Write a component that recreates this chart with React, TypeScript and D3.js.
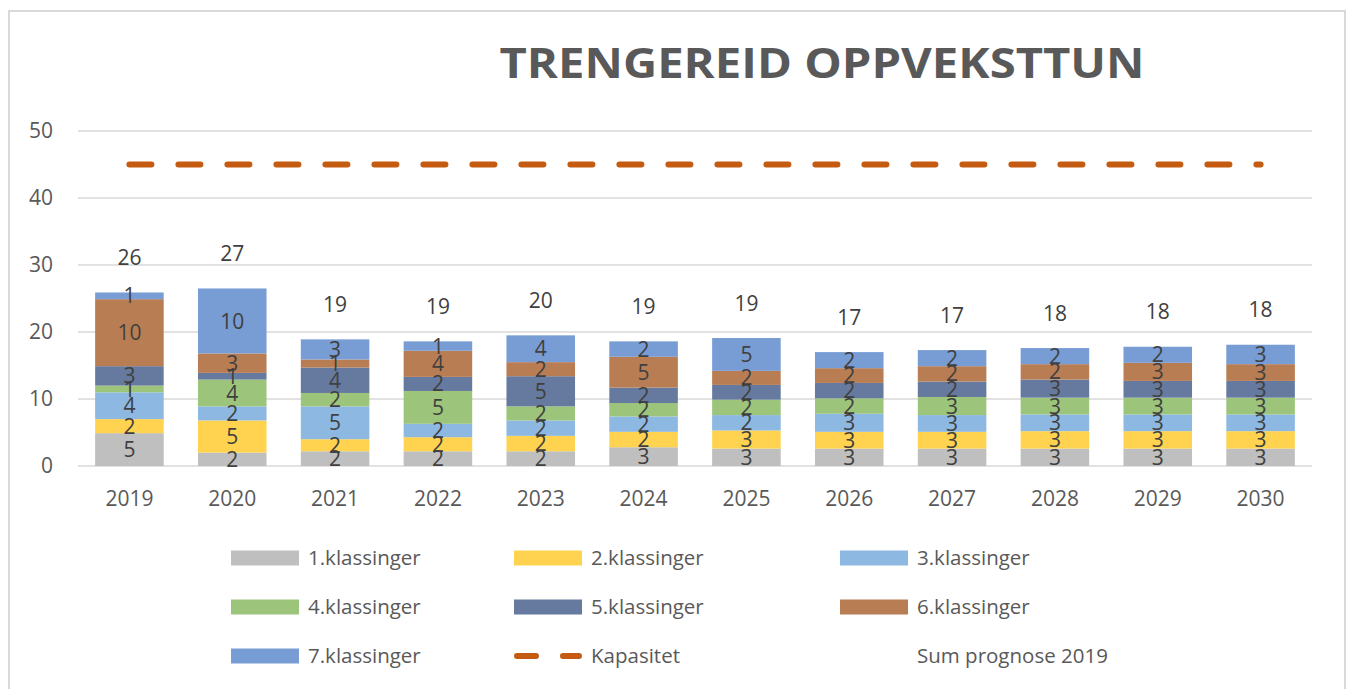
import React, { useEffect } from "react";
import * as d3 from "d3";

const years = ["2019", "2020", "2021", "2022", "2023", "2024", "2025", "2026", "2027", "2028", "2029", "2030"];
const seriesNames = [
  "1.klassinger",
  "2.klassinger",
  "3.klassinger",
  "4.klassinger",
  "5.klassinger",
  "6.klassinger",
  "7.klassinger",
];
const kl1 = [4.9, 2.0, 2.2, 2.2, 2.2, 2.8, 2.6, 2.6, 2.6, 2.6, 2.6, 2.6];
const kl2 = [2.1, 4.8, 1.8, 2.1, 2.3, 2.3, 2.7, 2.5, 2.5, 2.6, 2.6, 2.6];
const kl3 = [4.0, 2.1, 4.9, 2.0, 2.3, 2.3, 2.3, 2.7, 2.5, 2.5, 2.5, 2.5];
const kl4 = [1.0, 4.0, 2.0, 4.9, 2.1, 2.0, 2.3, 2.3, 2.7, 2.5, 2.5, 2.5];
const kl5 = [2.9, 1.0, 3.8, 2.1, 4.5, 2.3, 2.2, 2.3, 2.3, 2.7, 2.5, 2.5];
const kl6 = [10.0, 2.9, 1.2, 3.9, 2.1, 4.6, 2.1, 2.2, 2.3, 2.3, 2.7, 2.5];
const kl7 = [1.0, 9.7, 3.0, 1.4, 4.0, 2.3, 4.9, 2.4, 2.4, 2.4, 2.4, 2.9];
const kapasitet = [45, 45, 45, 45, 45, 45, 45, 45, 45, 45, 45, 45];
const yTicks = [0, 10, 20, 30, 40, 50];

const colors = ["#BFBFBF", "#FFD34F", "#8DB8E1", "#9CC47B", "#667A9F", "#B97D53", "#789CD4"];
const lineColor = "#C55A11";
const FONT = "'Open Sans', sans-serif";

const W = 1357;
const H = 689;

export default function App() {
  useEffect(() => {
    document.body.style.margin = "0";
  }, []);

  const allSeries = [kl1, kl2, kl3, kl4, kl5, kl6, kl7];
  const rows = years.map((yr, i) => {
    const r: any = { year: yr };
    seriesNames.forEach((s, k) => (r[s] = allSeries[k][i]));
    return r;
  });
  const stacked = d3.stack().keys(seriesNames)(rows);
  const totals = years.map((_, i) => Math.round(d3.sum(allSeries, (s) => s[i]) * 10) / 10);

  const x = d3.scaleBand().domain(years).range([78, 1312]).paddingInner(1 / 3).paddingOuter(1 / 6);
  const y = d3.scaleLinear().domain([0, 50]).range([466, 131]);
  const cx = (yr: string) => (x(yr) || 0) + x.bandwidth() / 2;

  const capLine = d3
    .line<number>()
    .x((_, i) => cx(years[i]))
    .y((d) => y(d));

  // legend layout
  const legendCols = [231, 514, 840];
  const legendRows = [558, 607, 656];
  const legendItems = [
    ...seriesNames.map((n, i) => ({ name: n, type: "bar", color: colors[i] })),
    { name: "Kapasitet", type: "line", color: lineColor },
    { name: "Sum prognose 2019", type: "none", color: "none" },
  ];

  return (
    <svg width={W} height={H} style={{ display: "block", background: "#fff" }}>
      <rect x={9} y={11} width={1336} height={700} fill="#fff" stroke="#D9D9D9" strokeWidth={2} />

      <text
        x={822}
        y={78}
        textAnchor="middle"
        fontFamily={FONT}
        fontWeight={700}
        fontSize={42}
        fill="#595959"
        textLength={645}
        lengthAdjust="spacingAndGlyphs"
      >
        TRENGEREID OPPVEKSTTUN
      </text>

      {/* grid */}
      {yTicks.map((t) => (
        <g key={t}>
          <line x1={78} x2={1312} y1={y(t)} y2={y(t)} stroke="#D9D9D9" strokeWidth={1.5} />
          <text
            x={53}
            y={y(t)}
            dy="0.35em"
            textAnchor="end"
            fontFamily={FONT}
            fontSize={21}
            fill="#595959"
          >
            {t}
          </text>
        </g>
      ))}

      {/* bars */}
      {stacked.map((layer, k) => (
        <g key={layer.key} fill={colors[k]}>
          {layer.map((d, i) => (
            <rect
              key={i}
              x={x(years[i])}
              y={y(d[1])}
              width={x.bandwidth()}
              height={y(d[0]) - y(d[1])}
            />
          ))}
        </g>
      ))}

      {/* segment labels */}
      {stacked.map((layer, k) => (
        <g key={"l" + layer.key}>
          {layer.map((d, i) => (
            <text
              key={i}
              x={cx(years[i])}
              y={(y(d[0]) + y(d[1])) / 2}
              dy="0.36em"
              textAnchor="middle"
              fontFamily={FONT}
              fontSize={21}
              fill="#404040"
            >
              {Math.round(allSeries[k][i])}
            </text>
          ))}
        </g>
      ))}

      {/* totals */}
      {totals.map((t, i) => (
        <text
          key={i}
          x={cx(years[i])}
          y={y(t) - 35}
          dy="0.36em"
          textAnchor="middle"
          fontFamily={FONT}
          fontSize={21}
          fill="#404040"
        >
          {Math.round(t)}
        </text>
      ))}

      {/* capacity */}
      <path
        d={capLine(kapasitet) || ""}
        fill="none"
        stroke={lineColor}
        strokeWidth={6}
        strokeLinecap="round"
        strokeDasharray="22,27"
      />

      {/* x labels */}
      {years.map((yr) => (
        <text
          key={yr}
          x={cx(yr)}
          y={498}
          dy="0.36em"
          textAnchor="middle"
          fontFamily={FONT}
          fontSize={21}
          fill="#595959"
        >
          {yr}
        </text>
      ))}

      {/* legend */}
      {legendItems.map((it, i) => {
        const lx = legendCols[i % 3];
        const ly = legendRows[Math.floor(i / 3)];
        return (
          <g key={it.name}>
            {it.type === "bar" && <rect x={lx} y={ly - 7.5} width={68} height={15} fill={it.color} />}
            {it.type === "line" && (
              <line
                x1={lx + 3}
                x2={lx + 65}
                y1={ly}
                y2={ly}
                stroke={it.color}
                strokeWidth={6}
                strokeLinecap="round"
                strokeDasharray="19,27"
              />
            )}
            <text
              x={lx + 77}
              y={ly}
              dy="0.36em"
              fontFamily={FONT}
              fontSize={20.5}
              fill="#595959"
            >
              {it.name}
            </text>
          </g>
        );
      })}
    </svg>
  );
}
